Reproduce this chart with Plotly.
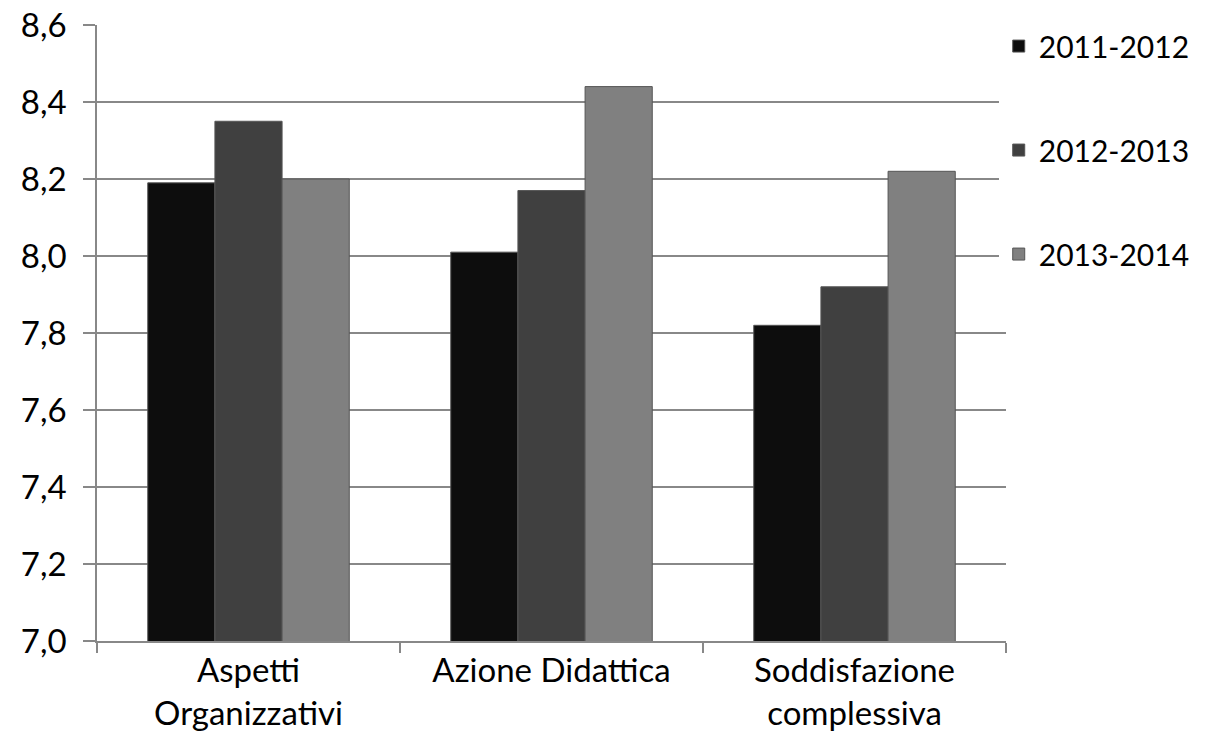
import plotly.graph_objects as go

categories = ["Aspetti<br>Organizzativi", "Azione Didattica", "Soddisfazione<br>complessiva"]
series_names = ["2011-2012", "2012-2013", "2013-2014"]
v2011 = [8.19, 8.01, 7.82]
v2012 = [8.35, 8.17, 7.92]
v2013 = [8.20, 8.44, 8.22]
colors = ["#0d0d0d", "#404040", "#808080"]

fig = go.Figure()
for i, (name, vals) in enumerate(zip(series_names, [v2011, v2012, v2013])):
    fig.add_trace(go.Bar(
        x=categories, y=vals, name=name, legendgroup=name,
        marker=dict(color=colors[i], line=dict(color="#555555", width=1)),
    ))

fig.update_layout(
    width=1207, height=749,
    margin=dict(l=97, r=190, t=25, b=108),
    plot_bgcolor="white", paper_bgcolor="white",
    barmode="group", bargap=0.335, bargroupgap=0,
    separators=",.",
    font=dict(family="Lato, sans-serif", size=33, color="black"),
    legend=dict(x=0.992, y=1.008, xanchor="left", yanchor="top",
                font=dict(size=30), tracegroupgap=62,
                traceorder="grouped", itemwidth=30),
    xaxis=dict(showline=True, linecolor="#888888", linewidth=1.5,
               ticks="outside", tickson="boundaries", ticklen=10,
               tickcolor="#888888", tickwidth=1.5, automargin=False,
               tickfont=dict(size=33), ticklabeloverflow="allow"),
    yaxis=dict(range=[7.0, 8.6], dtick=0.2, tickformat=".1f",
               showgrid=True, gridcolor="#888888", gridwidth=1.5,
               showline=True, linecolor="#888888", linewidth=1.5,
               ticks="outside", ticklen=12, tickcolor="#888888",
               tickwidth=1.5, zeroline=False, automargin=False,
               ticklabelstandoff=10, ticklabeloverflow="allow"),
)
fig.write_html("out.html", config={"displayModeBar": False},
               post_script="document.body.style.margin='0';document.body.style.overflow='hidden';")
